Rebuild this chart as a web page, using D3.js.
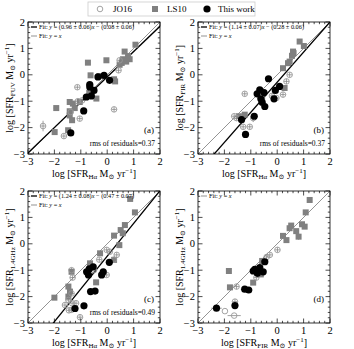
<!DOCTYPE html>
<html>
<head>
<meta charset="utf-8">
<script src="https://cdn.jsdelivr.net/npm/d3@7"></script>
<style>
  body { margin: 0; background: #fff; }
  svg { font-family: "Liberation Serif", "DejaVu Serif", serif; }
</style>
</head>
<body>
<svg width="354" height="349"></svg>
<script>
// data: [x, y, xerr, yerr]
var aLS10 = [[1.07,1.14],[0.66,0.88],[0.79,0.71],[0.6,0.59],[0.85,0.59],[0.47,0.38],[0.72,0.5],[0.55,0.45],
  [-0.73,0.46],[-0.03,0.55],[-0.63,-0.02],[-0.29,-0.05],[0.26,-0.17],[0.3,-0.25],[-0.41,-0.9],[-0.68,-0.68],
  [-1.42,-1.03],[-1.3,-1.09],[-1.04,-1.03],[-1.23,-1.26],[-1.42,-1.38],[-1.42,-1.54],[-1.33,-1.72],
  [-1.93,-1.26,0.1,0],[-1.99,-2.17],[-1.48,-2.1]];
var aJO16 = [[-1.13,-0.47,0.1,0.1],[-1.11,-1.0,0.1,0.1],[-0.95,-0.97,0.1,0.1],[-1.38,-1.41,0.1,0.1],
  [-1.04,-1.66,0.1,0.1],[-1.64,-2.32,0.1,0.1],[0.26,-1.31,0.1,0.1],[0.43,0.17,0.1,0.1],[0.47,0.55,0.1,0.1],
  [-2.43,-1.94,0.1,0.2]];
var aThis = [[-0.12,-0.02],[-0.35,-0.08],[0.09,-0.21],[-0.66,-0.37],[-0.66,-0.46],[-0.5,-0.59],
  [-0.6,-0.8],[-0.79,-0.84],[-0.89,-1.37],[-1.38,-2.2]];

var bLS10 = [[0.85,1.26],[1.01,1.09],[0.6,0.88],[0.62,0.82],[0.56,0.72],[0.47,0.5],[0.41,0.44],[0.22,0.25],
  [0.28,-0.5],[-0.57,-0.94],[-1.23,-1.51],[-1.45,-1.57]];
var bJO16 = [[-1.23,-0.72,0.1,0.1],[0.47,0.0,0.1,0.1],[0.35,-0.25,0.1,0.1],[0.22,-0.75,0.1,0.1],
  [-0.03,-0.88,0.1,0.1],[-0.91,-1.64,0.1,0.15],[-1.29,-1.97,0.1,0.1],[-1.04,-1.97,0.1,0.1],
  [-1.54,-1.64,0.1,0.1],[-1.63,-1.57,0.1,0.1],[-0.2,-0.8,0.1,0.1]];
var bThis = [[-0.33,-0.15],[0.09,-0.44],[-0.07,-0.59],[-0.66,-0.57],[-0.5,-0.67],[-0.76,-0.72],
  [-0.62,-0.91],[-0.57,-1.04],[-0.12,-0.91],[-0.47,-1.2],[-0.87,-1.57],[-1.35,-1.7],[-1.2,-2.26]];

var cLS10 = [[0.87,1.7],[1.05,1.19],[0.67,0.71],[0.51,0.52],[0.59,0.4],[0.26,0.31],[0.46,-0.05],[0.26,-0.61],
  [-0.27,-0.36],[-0.65,-0.74],[-0.42,-1.46],[-1.35,-1.06],[-1.47,-1.62],[-1.41,-1.81],[-1.47,-2.0],[-2.0,-2.04]];
var cJO16 = [[-1.31,-1.28,0.1,0.1],[-1.35,-1.0,0.1,0.1],[-0.02,-0.23,0.1,0.1],[0.1,-0.3,0.1,0.1],
  [0.36,-0.42,0.1,0.1],[0.25,-0.6,0.1,0.1],[-0.02,-1.18,0.1,0.1],[-1.35,-1.88,0.1,0.1],[-1.47,-2.13,0.1,0.1],
  [-1.33,-2.25,0.1,0.1],[-1.18,-2.25,0.1,0.1],[-1.6,-2.32,0.1,0.1],[-1.35,-2.5,0.1,0.1],[-1.45,-2.52,0.1,0.1],
  [-1.03,-2.78,0.1,0.1],[-0.3,-0.6,0.1,0.1],[-0.5,-1.0,0.1,0.1]];
var cThis = [[-0.78,-1.06],[-0.68,-0.95],[-0.71,-1.18],[-0.53,-0.87],[0.08,-0.7],[-0.15,-1.06],
  [-0.21,-1.18],[-0.46,-1.79],[-0.63,-1.81],[-0.88,-2.35],[-1.22,-2.45]];

var dLS10 = [[1.23,1.66],[1.08,1.19],[0.94,0.74],[1.04,0.65],[0.53,0.69],[0.47,0.59],[0.72,0.48],[0.81,0.27,0,0.12],
  [0.22,0.3],[0.35,0.14],[-0.57,-0.65],[-0.62,-1.16],[-0.91,-1.47],[-1.83,-1.03],[-1.79,-1.65]];
var dJO16 = [[0.01,-0.23,0.1,0.1],[-0.28,-0.42,0.1,0.1],[-0.4,-0.5,0.1,0.1],[-0.79,-1.28,0.1,0.1],
  [-1.54,-1.62,0.1,0.1],[-1.6,-2.19,0.1,0.1],[-1.98,-2.55,0,0],[-1.63,-2.72,0.25,0]];
var dThis = [[-0.47,-0.68],[-0.66,-0.9],[-0.91,-1.03],[-0.75,-1.12],[-0.53,-1.06],[-1.08,-1.75,0.15,0],
  [-1.23,-1.72,0.15,0],[-1.6,-2.34],[-2.3,-2.44,0.2,0],[-0.85,-0.97]];

// fits: [slope, intercept]
var fitA = [0.96, -0.08], fitB = [1.14, -0.28], fitC = [1.24, -0.47];
var fitLabels = ["(0.96 \u00b1 0.06)", "(1.14 \u00b1 0.07)", "(1.24 \u00b1 0.08)"];
var fitOffsets = ["(0.08 \u00b1 0.06)", "(0.28 \u00b1 0.06)", "(0.47 \u00b1 0.07)"];
var rmsLabels = ["rms of residuals=0.37", "rms of residuals=0.37", "rms of residuals=0.49"];
var tickValues = [-3, -2, -1, 0, 1, 2];

var svg = d3.select("svg");

var panels = [
  {x0: 28, y0: 22, tag: "(a)", ls: aLS10, jo: aJO16, tw: aThis, fit: fitA, k: 0, xs: "H\u03b1", ys: "FUV"},
  {x0: 198, y0: 22, tag: "(b)", ls: bLS10, jo: bJO16, tw: bThis, fit: fitB, k: 1, xs: "H\u03b1", ys: "FIR"},
  {x0: 28, y0: 191, tag: "(c)", ls: cLS10, jo: cJO16, tw: cThis, fit: fitC, k: 2, xs: "H\u03b1", ys: "1.4GHz"},
  {x0: 198, y0: 191, tag: "(d)", ls: dLS10, jo: dJO16, tw: dThis, fit: null, xs: "FIR", ys: "1.4GHz"}
];

var size = 132;

function sfrTitle(sel, sub) {
  sel.append("tspan").text("log [SFR");
  sel.append("tspan").attr("font-size", 7).attr("dy", 2).text(sub);
  sel.append("tspan").attr("dy", -2).text(" M");
  sel.append("tspan").attr("font-size", 7).attr("dy", 2).text("\u2299");
  sel.append("tspan").attr("dy", -2).text(" yr");
  sel.append("tspan").attr("font-size", 7).attr("dy", -4).text("\u22121");
  sel.append("tspan").attr("dy", 4).text("]");
}

function fitText(sel, slope, offset) {
  sel.append("tspan").text("Fit:  ");
  sel.append("tspan").attr("font-style", "italic").text("y");
  if (slope) {
    sel.append("tspan").text(" = " + slope);
    sel.append("tspan").attr("font-style", "italic").text("x");
    sel.append("tspan").text(" \u2212 " + offset);
  } else {
    sel.append("tspan").text(" = ");
    sel.append("tspan").attr("font-style", "italic").text("x");
  }
}

panels.forEach(function(p, i) {
  var x = d3.scaleLinear().domain([-3, 2]).range([0, size]);
  var y = d3.scaleLinear().domain([-3, 2]).range([size, 0]);
  var g = svg.append("g").attr("transform", "translate(" + p.x0 + "," + p.y0 + ")");

  g.append("clipPath").attr("id", "clip" + i)
    .append("rect").attr("width", size).attr("height", size);
  var plot = g.append("g").attr("clip-path", "url(#clip" + i + ")");

  // y = x line
  plot.append("line")
    .attr("x1", x(-3)).attr("y1", y(-3)).attr("x2", x(2)).attr("y2", y(2))
    .attr("stroke", "#666").attr("stroke-width", 0.7);
  if (p.fit) {
    plot.append("line")
      .attr("x1", x(-4)).attr("y1", y(p.fit[0] * -4 + p.fit[1]))
      .attr("x2", x(3)).attr("y2", y(p.fit[0] * 3 + p.fit[1]))
      .attr("stroke", "#000").attr("stroke-width", 1.3);
  }

  // error bars
  var all = p.ls.concat(p.jo, p.tw);
  all.forEach(function(d) {
    if (d[2]) plot.append("line").attr("x1", x(d[0] - d[2])).attr("x2", x(d[0] + d[2]))
      .attr("y1", y(d[1])).attr("y2", y(d[1])).attr("stroke", "#888").attr("stroke-width", 0.8);
    if (d[3]) plot.append("line").attr("x1", x(d[0])).attr("x2", x(d[0]))
      .attr("y1", y(d[1] - d[3])).attr("y2", y(d[1] + d[3])).attr("stroke", "#888").attr("stroke-width", 0.8);
  });

  plot.selectAll(".ls").data(p.ls).enter().append("rect")
    .attr("x", function(d) { return x(d[0]) - 3; })
    .attr("y", function(d) { return y(d[1]) - 3; })
    .attr("width", 6).attr("height", 6)
    .attr("fill", "#808080");
  plot.selectAll(".jo").data(p.jo).enter().append("circle")
    .attr("cx", function(d) { return x(d[0]); })
    .attr("cy", function(d) { return y(d[1]); })
    .attr("r", 2.8).attr("fill", "none")
    .attr("stroke", "#999").attr("stroke-width", 0.9);
  plot.selectAll(".tw").data(p.tw).enter().append("circle")
    .attr("cx", function(d) { return x(d[0]); })
    .attr("cy", function(d) { return y(d[1]); })
    .attr("r", 3.6).attr("fill", "#000");

  // frame
  g.append("rect").attr("width", size).attr("height", size)
    .attr("fill", "none").attr("stroke", "#000").attr("stroke-width", 0.8);

  // ticks on all sides, inward
  var minor = d3.range(-3, 2.001, 0.2);
  minor.forEach(function(v) {
    var major = Math.abs(v - Math.round(v)) < 1e-6;
    var len = major ? 4.5 : 2.2;
    g.append("line").attr("x1", x(v)).attr("x2", x(v)).attr("y1", size).attr("y2", size - len).attr("stroke", "#000").attr("stroke-width", 0.7);
    g.append("line").attr("x1", x(v)).attr("x2", x(v)).attr("y1", 0).attr("y2", len).attr("stroke", "#000").attr("stroke-width", 0.7);
    g.append("line").attr("y1", y(v)).attr("y2", y(v)).attr("x1", 0).attr("x2", len).attr("stroke", "#000").attr("stroke-width", 0.7);
    g.append("line").attr("y1", y(v)).attr("y2", y(v)).attr("x1", size).attr("x2", size - len).attr("stroke", "#000").attr("stroke-width", 0.7);
  });

  tickValues.forEach(function(v) {
    var lab = v < 0 ? "\u2212" + Math.abs(v) : String(v);
    g.append("text").attr("x", x(v)).attr("y", size + 11).attr("text-anchor", "middle")
      .attr("font-size", 10.5).text(lab);
    g.append("text").attr("x", -3).attr("y", y(v) + 3.5).attr("text-anchor", "end")
      .attr("font-size", 10.5).text(lab);
  });

  // axis titles
  g.append("text").attr("x", size / 2).attr("y", size + 23).attr("text-anchor", "middle")
    .attr("font-size", 10).call(sfrTitle, p.xs);
  g.append("text").attr("transform", "translate(-15," + size / 2 + ") rotate(-90)")
    .attr("text-anchor", "middle").attr("font-size", 10).call(sfrTitle, p.ys);

  // in-panel legend
  var ly = 5;
  if (p.fit) {
    g.append("line").attr("x1", 3).attr("x2", 9).attr("y1", ly).attr("y2", ly).attr("stroke", "#000").attr("stroke-width", 1.3);
    g.append("text").attr("x", 11).attr("y", ly + 2).attr("font-size", 6.3).call(fitText, fitLabels[p.k], fitOffsets[p.k]);
    ly += 9;
  }
  g.append("line").attr("x1", 3).attr("x2", 9).attr("y1", ly).attr("y2", ly).attr("stroke", "#666").attr("stroke-width", 0.7);
  g.append("text").attr("x", 11).attr("y", ly + 2).attr("font-size", 6.3).call(fitText, null, null);

  g.append("text").attr("x", size - 6).attr("y", size - 21).attr("text-anchor", "end")
    .attr("font-size", 9).text(p.tag);
  if (p.fit) {
    g.append("text").attr("x", size - 5).attr("y", size - 8).attr("text-anchor", "end")
      .attr("font-size", 7.5).text(rmsLabels[p.k]);
  }
});

// top legend
var leg = svg.append("g");
leg.append("rect").attr("x", 88).attr("y", 2).attr("width", 167).attr("height", 14)
  .attr("fill", "#fff").attr("stroke", "#ccc").attr("stroke-width", 0.8);
leg.append("circle").attr("cx", 100).attr("cy", 9).attr("r", 2.8).attr("fill", "none").attr("stroke", "#999").attr("stroke-width", 0.9);
leg.append("text").attr("x", 113).attr("y", 12).attr("font-size", 9).text("JO16");
leg.append("rect").attr("x", 152).attr("y", 6).attr("width", 6).attr("height", 6).attr("fill", "#808080");
leg.append("text").attr("x", 167).attr("y", 12).attr("font-size", 9).text("LS10");
leg.append("circle").attr("cx", 207).attr("cy", 9).attr("r", 3.6).attr("fill", "#000");
leg.append("text").attr("x", 218).attr("y", 12).attr("font-size", 9).text("This work");
</script>
</body>
</html>
